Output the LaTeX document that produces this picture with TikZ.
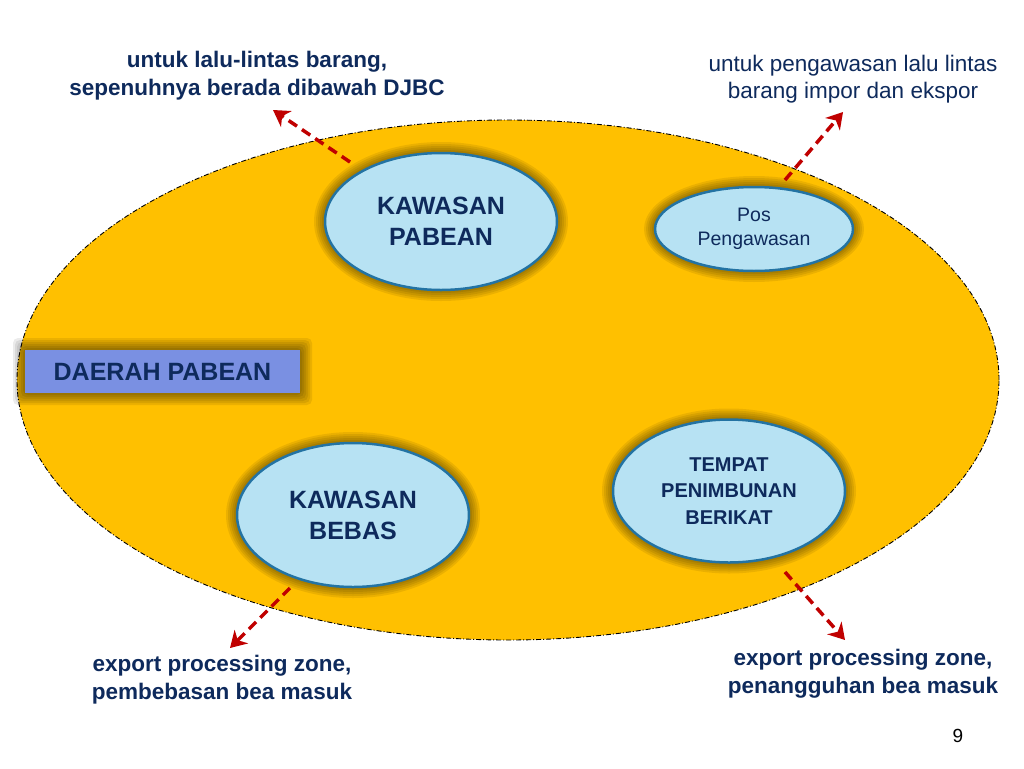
\documentclass[tikz,border=0pt]{standalone}
\usepackage{fontspec}
\setmainfont{Liberation Sans}
\usetikzlibrary{shapes.geometric,arrows.meta}
\definecolor{gold}{HTML}{FFC000}
\definecolor{navy}{HTML}{0E2A5C}
\definecolor{darkred}{HTML}{C00000}
\definecolor{lblue}{HTML}{B7E2F3}
\definecolor{eborder}{HTML}{2373A3}
\definecolor{rblue}{HTML}{7A90E2}
\newcommand{\myglowell}[4]{%
  \foreach \k in {1,...,6}{\fill[black,opacity=0.08] (#1,#2) ellipse [x radius={#3+2*\k}, y radius={#4+2*\k}];}}
\begin{document}
\begin{tikzpicture}[x=1pt,y=-1pt,
  zone/.style={ellipse, draw=eborder, line width=2.5pt, fill=lblue, inner sep=0pt, text=navy, align=center},
  bigfont/.style={font=\bfseries\fontsize{25}{31}\selectfont},
  lbl/.style={text=navy, align=center, font=\bfseries\fontsize{22.5}{28}\selectfont},
  arr/.style={draw=darkred, line width=3.5pt, dash pattern=on 10pt off 6pt, -{Stealth[length=16pt,width=19pt,inset=5pt]}}]
\useasboundingbox[fill=white] (0,0) rectangle (1024,768);

% region
\node[ellipse, fill=gold, draw=black, line width=0.9pt, dash pattern=on 5pt off 2pt on 1pt off 2pt,
  minimum width=982pt, minimum height=520pt, inner sep=0pt] (region) at (508,380) {};

% glows
\myglowell{441}{221.5}{115}{67.5}
\myglowell{754}{229}{98}{41}
\myglowell{353}{515}{115}{71}
\myglowell{729}{491}{115}{70.5}
\foreach \k in {1,...,6}{\fill[black,opacity=0.08,rounded corners=5pt] ({25-2*\k},{350-2*\k}) rectangle ({300+2*\k},{393+2*\k});}

% zones
\node[zone, bigfont, minimum width=232pt, minimum height=137pt] (kp) at (441,221.5) {KAWASAN\\PABEAN};
\node[zone, font=\fontsize{19.5}{24}\selectfont, minimum width=198pt, minimum height=84pt] (pos) at (754,229) {Pos\\Pengawasan};
\node[zone, bigfont, minimum width=232pt, minimum height=144pt] (kb) at (353,515) {KAWASAN\\BEBAS};
\node[zone, font=\bfseries\fontsize{20}{26.5}\selectfont, minimum width=232pt, minimum height=143pt] (tpb) at (729,491) {TEMPAT\\PENIMBUNAN\\BERIKAT};

\node[fill=rblue, text=navy, minimum width=275pt, minimum height=43pt, inner sep=0pt,
  font=\bfseries\fontsize{25}{28}\selectfont] (dp) at (162.5,371.5) {DAERAH PABEAN};

% labels
\node[lbl] (l1) at (257,76) {untuk lalu-lintas barang,\\sepenuhnya berada dibawah DJBC};
\node[lbl, font=\fontsize{22.5}{27}\selectfont] (l2) at (853,79) {untuk pengawasan lalu lintas\\barang impor dan ekspor};
\node[lbl] (l3) at (222,680) {export processing zone,\\pembebasan bea masuk};
\node[lbl] (l4) at (863,674) {export processing zone,\\penangguhan bea masuk};
\node[text=black, font=\fontsize{19}{22}\selectfont] (pg) at (958,736) {9};

% arrows
\coordinate (a1s) at (350,162); \coordinate (a1e) at (273,110);
\coordinate (a2s) at (785,180); \coordinate (a2e) at (843,112);
\coordinate (a3s) at (290,588); \coordinate (a3e) at (230,648);
\coordinate (a4s) at (785,572); \coordinate (a4e) at (845,640);
\draw[arr] (a1s) -- (a1e);
\draw[arr] (a2s) -- (a2e);
\draw[arr] (a3s) -- (a3e);
\draw[arr] (a4s) -- (a4e);
\end{tikzpicture}
\end{document}
